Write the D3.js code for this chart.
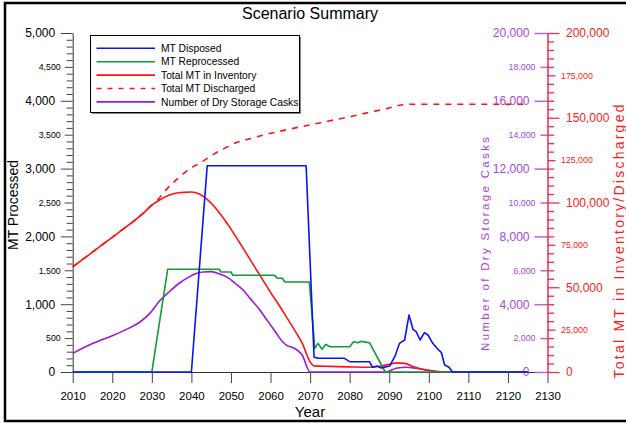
<!DOCTYPE html>
<html><head><meta charset="utf-8">
<script src="https://cdn.jsdelivr.net/npm/d3@7"></script>
<style>body{margin:0;background:#fff}svg{display:block;font-family:"Liberation Sans",Arial,sans-serif}</style>
</head><body><svg id="c" width="626" height="423"></svg>
<script>
// ---- data ----
const seriesNames = ["MT Disposed","MT Reprocessed","Total MT in Inventory","Total MT Discharged","Number of Dry Storage Casks"];
const xTicks = [2010,2020,2030,2040,2050,2060,2070,2080,2090,2100,2110,2120,2130];
const leftTicks = d3.range(0,5001,100);
const caskTicks = d3.range(0,20001,2000);
const totalTicks = d3.range(0,200001,5000);

const mtDisposed = [[2010,0],[2040,0],[2044,3043],[2069,3043],[2071,217],[2072,205],[2078.7,202],[2080,152],[2085,152],
 [2085.8,69],[2086.9,88],[2088,59],[2089.3,79],[2090.1,88],[2091.4,226],[2092.6,423],[2093.9,472],[2095,841],[2096,630],
 [2096.8,595],[2097.8,472],[2098.9,580],[2099.8,546],[2101,423],[2102.3,335],[2103.2,285],[2104,103],[2105.1,69],[2106,0],[2125,0]];
const mtReprocessed = [[2010,0],[2030,0],[2034,1515],[2047,1515],[2047.5,1475],[2050,1475],[2050.5,1426],[2061,1426],
 [2061.8,1382],[2063,1382],[2063.6,1327],[2069.8,1327],[2071.2,349],[2072,423],[2073,335],[2074,408],[2075,373],[2080,373],
 [2081,447],[2082,432],[2083,452],[2085,432],[2089,0],[2125,0]];
const totalInventory = [[2010,62000],[2014,69000],[2018,76000],[2022,83000],[2026,90000],[2028,94000],[2030,98500],[2032,101500],
 [2034,104000],[2036,105500],[2038,106000],[2040,106200],[2042,105000],[2044,101800],[2046,97000],[2048,91000],[2050,84300],
 [2052,77000],[2054,69500],[2056,62000],[2058,54500],[2060,47000],[2062,40000],[2064,32500],[2066,25000],[2068,17000],
 [2070,6000],[2071,3600],[2075,3300],[2080,3000],[2085,2800],[2088,3500],[2090,4600],[2092,5400],[2094,5100],[2096,3200],
 [2098,1800],[2100,900],[2102,300],[2104,50],[2106,0],[2125,0]];
const totalDischarged = [[2010,62000],[2014,69000],[2018,76000],[2022,83000],[2026,90000],[2028,94000],[2030,98500],[2031,100400],
 [2032,103000],[2034,108500],[2036,113000],[2038,117000],[2040,120500],[2042,123000],[2044,126000],[2046,129000],[2048,131500],
 [2050,134000],[2055,137800],[2060,140800],[2065,143400],[2070,145800],[2075,148200],[2080,150600],[2085,153200],[2090,155800],
 [2093,157500],[2095,158000],[2125,158000]];
const dryCasks = [[2010,1100],[2015,1680],[2020,2140],[2024,2560],[2027,2950],[2029.5,3460],[2032,4200],[2034.5,4750],[2037,5250],
 [2039,5550],[2041,5800],[2043,5900],[2045,5920],[2047,5800],[2049,5600],[2051,5250],[2053,4850],[2055,4300],[2057,3750],
 [2059,3100],[2061,2450],[2063,1800],[2064,1590],[2066,1400],[2068,1000],[2070,0],[2089,0],[2091.8,220],[2094.3,280],
 [2096.8,220],[2101,60],[2104,0],[2125,0]];

// ---- layout ----
const svg = d3.select("#c");
const X0 = 72.7, X1 = 547.5, YB = 372, YT = 33;
const x = d3.scaleLinear().domain([2010,2130]).range([X0,X1]);
const yL = d3.scaleLinear().domain([0,5000]).range([YB,YT]);
const yC = d3.scaleLinear().domain([0,20000]).range([YB,YT]);
const yT = d3.scaleLinear().domain([0,200000]).range([YB,YT]);
const fmt = d3.format(",");
const C = {blue:"#0a14f5", green:"#109a38", red:"#ff1212", purple:"#9b19d9", ptxt:"#a844dc", raxis:"#ee2a55"};

svg.append("rect").attr("width",626).attr("height",423).attr("fill","#fff");
svg.append("rect").attr("x",5).attr("y",3).attr("width",650).attr("height",418)
  .attr("fill","none").attr("stroke","#000").attr("stroke-width",2.5);

svg.append("text").attr("x",310).attr("y",19).attr("text-anchor","middle").style("font-size","16px").text("Scenario Summary");

// left axis
const gL = svg.append("g").attr("transform",`translate(${X0},0)`)
  .call(d3.axisLeft(yL).tickValues(leftTicks).tickFormat(d => d%500===0 ? fmt(d) : "").tickSizeOuter(0));
gL.select(".domain").attr("stroke","#333");
gL.selectAll(".tick line").attr("x2", d => d%1000===0 ? -12 : d%500===0 ? -8 : -6).attr("stroke","#444");
gL.selectAll(".tick text").attr("x", d => d%1000===0 ? -17.5 : -12).attr("fill","#000")
  .style("font-size", d => d%1000===0 ? "12px" : "8.8px").style("font-family","inherit");

// bottom axis
const gB = svg.append("g").attr("transform",`translate(0,${YB})`)
  .call(d3.axisBottom(x).tickValues(xTicks).tickFormat(d3.format("d")).tickSize(11).tickSizeOuter(0));
gB.select(".domain").attr("stroke","#333");
gB.selectAll(".tick line").attr("stroke","#444");
gB.selectAll(".tick text").attr("y",19.5).attr("fill","#000").style("font-size","11.5px").style("font-family","inherit");

// purple (casks) axis
const gC = svg.append("g").attr("transform",`translate(${X1},0)`)
  .call(d3.axisLeft(yC).tickValues(caskTicks).tickFormat(fmt).tickSizeOuter(0));
gC.select(".domain").remove();
gC.selectAll(".tick line").attr("x2", d => d%4000===0 ? -13 : -7).attr("stroke","#b366e0").attr("stroke-width",1.5);
gC.selectAll(".tick text").attr("x", d => d%4000===0 ? -18 : -12).attr("fill",C.ptxt)
  .style("font-size", d => d%4000===0 ? "12px" : "8.8px").style("font-family","inherit");

// red (total) axis
const gT = svg.append("g").attr("transform",`translate(${X1},0)`)
  .call(d3.axisRight(yT).tickValues(totalTicks).tickFormat(d => d%25000===0 ? fmt(d) : "").tickSizeOuter(0));
gT.select(".domain").attr("stroke",C.raxis).attr("stroke-width",1.5);
gT.selectAll(".tick line").attr("x2", d => d%50000===0 ? 12 : d%25000===0 ? 8 : 6.5).attr("stroke",C.raxis).attr("stroke-width",1.3);
gT.selectAll(".tick text").attr("x", d => d%50000===0 ? 18.5 : 13.5).attr("fill","#ff2020")
  .style("font-size", d => d%50000===0 ? "12px" : "8.8px").style("font-family","inherit");

// axis titles
svg.append("text").attr("transform","translate(18,205) rotate(-90)").attr("text-anchor","middle")
  .style("font-size","14px").text("MT Processed");
svg.append("text").attr("x",310).attr("y",417).attr("text-anchor","middle").style("font-size","15px").text("Year");
svg.append("text").attr("transform","translate(488.5,244) rotate(-90)").attr("text-anchor","middle")
  .attr("fill",C.ptxt).style("font-size","11.5px").attr("textLength",214).attr("lengthAdjust","spacing")
  .text("Number of Dry Storage Casks");
svg.append("text").attr("transform","translate(624,241.5) rotate(-90)").attr("text-anchor","middle")
  .attr("fill","#ff1a1a").style("font-size","14px").attr("textLength",274).attr("lengthAdjust","spacing")
  .text("Total MT in Inventory/Discharged");

// lines
const line = (ys, smooth) => d3.line().x(d => x(d[0])).y(d => ys(d[1])).curve(smooth ? d3.curveMonotoneX : d3.curveLinear);
const plot = svg.append("g").attr("fill","none").attr("stroke-width",1.6).attr("stroke-linejoin","round");
plot.append("path").datum(totalDischarged).attr("d",line(yT,true)).attr("stroke",C.red).attr("stroke-dasharray","6,6");
plot.append("path").datum(dryCasks).attr("d",line(yC,true)).attr("stroke",C.purple);
plot.append("path").datum(totalInventory).attr("d",line(yT,true)).attr("stroke",C.red);
plot.append("path").datum(mtReprocessed).attr("d",line(yL,false)).attr("stroke",C.green);
plot.append("path").datum(mtDisposed).attr("d",line(yL,false)).attr("stroke",C.blue);

// legend
const lg = svg.append("g");
lg.append("rect").attr("x",92).attr("y",37).attr("width",209).attr("height",77).attr("fill","#888");
lg.append("rect").attr("x",90.5).attr("y",35.5).attr("width",209).attr("height",77).attr("fill","#fff").attr("stroke","#000");
const lgColors = [C.blue,C.green,C.red,C.red,C.purple];
seriesNames.forEach((n,i) => {
  const yy = 48.3 + i*13.4;
  lg.append("line").attr("x1",96.5).attr("x2",155).attr("y1",yy).attr("y2",yy).attr("stroke",lgColors[i])
    .attr("stroke-width",1.6).attr("stroke-dasharray", i===3 ? "5,6" : null);
  lg.append("text").attr("x",161).attr("y",yy+3.6).style("font-size","10.3px").text(n);
});
</script></body></html>
